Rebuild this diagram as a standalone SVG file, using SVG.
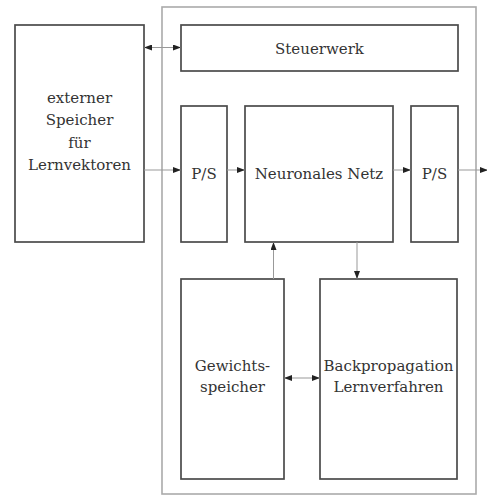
<svg xmlns="http://www.w3.org/2000/svg" width="487" height="495" viewBox="0 0 487 495">
<style>
.box{fill:#fff;stroke:#4a4a4a;stroke-width:1.7}
.outer{fill:none;stroke:#aaa;stroke-width:1.6}
.lbl{font-family:'DejaVu Serif','Liberation Serif',serif;font-size:15px;fill:#333;text-anchor:middle}
.con{fill:none;stroke:#999;stroke-width:1}
</style>
<defs>
<marker id="ah" viewBox="0 0 8 6" refX="8" refY="3" markerWidth="8" markerHeight="6" markerUnits="userSpaceOnUse" orient="auto-start-reverse">
<path d="M0,0 L8,3 L0,6 Z" fill="#222"/>
</marker>
</defs>
<rect x="0" y="0" width="487" height="495" fill="#fff"/>
<g id="system"><rect class="outer" x="162" y="7" width="314" height="487"/></g>
<g id="extern"><rect class="box" x="15" y="25" width="129" height="217"/>
<text class="lbl" x="79.5" y="103">externer</text>
<text class="lbl" x="79.5" y="125">Speicher</text>
<text class="lbl" x="79.5" y="147.5">für</text>
<text class="lbl" x="79.5" y="170">Lernvektoren</text></g>
<g id="steuerwerk"><rect class="box" x="181" y="25" width="277" height="46"/>
<text class="lbl" x="319.5" y="54">Steuerwerk</text></g>
<g id="ps1"><rect class="box" x="181" y="106" width="46" height="136"/>
<text class="lbl" x="204" y="179">P/S</text></g>
<g id="nn"><rect class="box" x="245" y="106" width="148" height="136"/>
<text class="lbl" x="319" y="179">Neuronales Netz</text></g>
<g id="ps2"><rect class="box" x="411" y="106" width="47" height="136"/>
<text class="lbl" x="434.5" y="179">P/S</text></g>
<g id="gewichte"><rect class="box" x="181" y="279" width="103" height="200"/>
<text class="lbl" x="232.5" y="370.5">Gewichts-</text>
<text class="lbl" x="232.5" y="392">speicher</text></g>
<g id="backprop"><rect class="box" x="320" y="279" width="137" height="200"/>
<text class="lbl" x="388.5" y="370.5">Backpropagation</text>
<text class="lbl" x="388.5" y="392">Lernverfahren</text></g>
<g id="connectors">
<line class="con" x1="144" y1="47.5" x2="181" y2="47.5" marker-start="url(#ah)" marker-end="url(#ah)"/>
<line class="con" x1="144" y1="170" x2="181" y2="170" marker-end="url(#ah)"/>
<line class="con" x1="227" y1="170" x2="245" y2="170" marker-end="url(#ah)"/>
<line class="con" x1="393" y1="170" x2="411" y2="170" marker-end="url(#ah)"/>
<line class="con" x1="458" y1="170" x2="488" y2="170" marker-end="url(#ah)"/>
<line class="con" x1="273.5" y1="279" x2="273.5" y2="242" marker-end="url(#ah)"/>
<line class="con" x1="357" y1="242" x2="357" y2="279" marker-end="url(#ah)"/>
<line class="con" x1="284" y1="378" x2="320" y2="378" marker-start="url(#ah)" marker-end="url(#ah)"/>
</g>
</svg>
